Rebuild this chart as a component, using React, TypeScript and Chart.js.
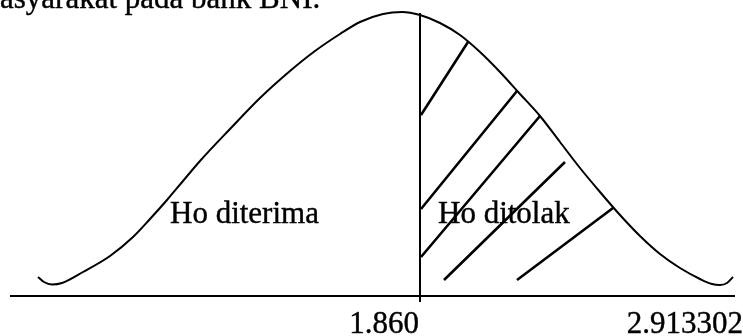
import React, { useEffect, useRef } from "react";
import { Chart, registerables } from "chart.js";

Chart.register(...registerables);

// Horizontal position (0..743) and height above the baseline axis.
const curveX = [38, 44, 52, 62, 83, 110, 133, 150, 167, 183, 200, 230, 260, 290, 315, 340, 360, 383, 402, 420, 440, 460, 480, 500, 520, 540, 560, 580, 600, 620, 640, 660, 680, 700, 712, 720, 727, 733];
const curveY = [19, 14, 11.5, 13, 24, 40, 59, 77, 96, 115, 135, 167, 198, 225, 245, 262, 274, 282, 284, 281, 273, 261, 244, 224, 202, 180, 154, 128, 104, 81, 60, 42, 28, 17, 12, 11, 13, 19];

// Hatch segments in the rejection region: [x1, y1, x2, y2]
const hatchSegments = [
  [468, 254, 421, 181],
  [517, 205, 421, 87],
  [540, 180, 421, 39],
  [565, 134, 444, 16],
  [613, 88, 517, 16],
];

const criticalX = 420;
const criticalTop = 283;
const criticalBottom = -6;
const axisStart = 10;
const axisEnd = 735;

const tickLabels = ["1.860", "2.913302"];
const regionLabels = ["Ho diterima", "Ho ditolak"];
const headerText = "asyarakat pada bank BNI.";

export default function App() {
  const ref = useRef<HTMLCanvasElement | null>(null);

  useEffect(() => {
    const canvas = ref.current;
    if (!canvas) return;

    const curveData = curveX.map((x, i) => ({ x, y: curveY[i] }));
    const hatchData: { x: number; y: number | null }[] = [];
    hatchSegments.forEach((s, i) => {
      hatchData.push({ x: s[0], y: s[1] });
      hatchData.push({ x: s[2], y: s[3] });
      if (i < hatchSegments.length - 1) hatchData.push({ x: s[2], y: null });
    });

    const textPlugin = {
      id: "textPlugin",
      afterDatasetsDraw(chart: any) {
        const ctx = chart.ctx;
        const xs = chart.scales.x;
        const ys = chart.scales.y;
        ctx.save();
        ctx.fillStyle = "#000";
        ctx.strokeStyle = "#000";
        ctx.lineWidth = 0.4;
        ctx.font = '31px "Liberation Serif"';
        ctx.textBaseline = "alphabetic";
        const put = (t: string, x: number, y: number) => {
          const px = xs.getPixelForValue(x);
          const py = ys.getPixelForValue(y);
          ctx.fillText(t, px, py);
          ctx.strokeText(t, px, py);
        };
        ctx.textAlign = "left";
        put(headerText, 0, 288);
        put(regionLabels[0], 170, 73);
        put(regionLabels[1], 438, 73);
        ctx.textAlign = "right";
        put(tickLabels[0], 419, -37);
        put(tickLabels[1], 743, -37);
        ctx.restore();
      },
    };

    const chart = new Chart(canvas, {
      type: "line",
      data: {
        datasets: [
          {
            data: curveData,
            borderColor: "#000",
            borderWidth: 2,
            pointRadius: 0,
            cubicInterpolationMode: "monotone",
            clip: false,
          } as any,
          {
            data: hatchData,
            borderColor: "#000",
            borderWidth: 2.6,
            pointRadius: 0,
            tension: 0,
            spanGaps: false,
            clip: false,
          } as any,
          {
            data: [
              { x: criticalX, y: criticalTop },
              { x: criticalX, y: criticalBottom },
            ],
            borderColor: "#000",
            borderWidth: 2,
            pointRadius: 0,
            clip: false,
          } as any,
          {
            data: [
              { x: axisStart, y: 0 },
              { x: axisEnd, y: 0 },
            ],
            borderColor: "#000",
            borderWidth: 2,
            pointRadius: 0,
            clip: false,
          } as any,
        ],
      },
      options: {
        animation: false,
        responsive: false,
        devicePixelRatio: 1,
        layout: { padding: 0 },
        plugins: { legend: { display: false }, tooltip: { enabled: false } },
        scales: {
          x: { type: "linear", min: 0, max: 743, display: false },
          y: { type: "linear", min: -40, max: 296, display: false },
        },
      },
      plugins: [textPlugin],
    });

    return () => chart.destroy();
  }, []);

  return (
    <div style={{ position: "absolute", left: 0, top: 0, width: 743, height: 336, background: "#fff" }}>
      <canvas ref={ref} width={743} height={336} style={{ display: "block" }} />
    </div>
  );
}
